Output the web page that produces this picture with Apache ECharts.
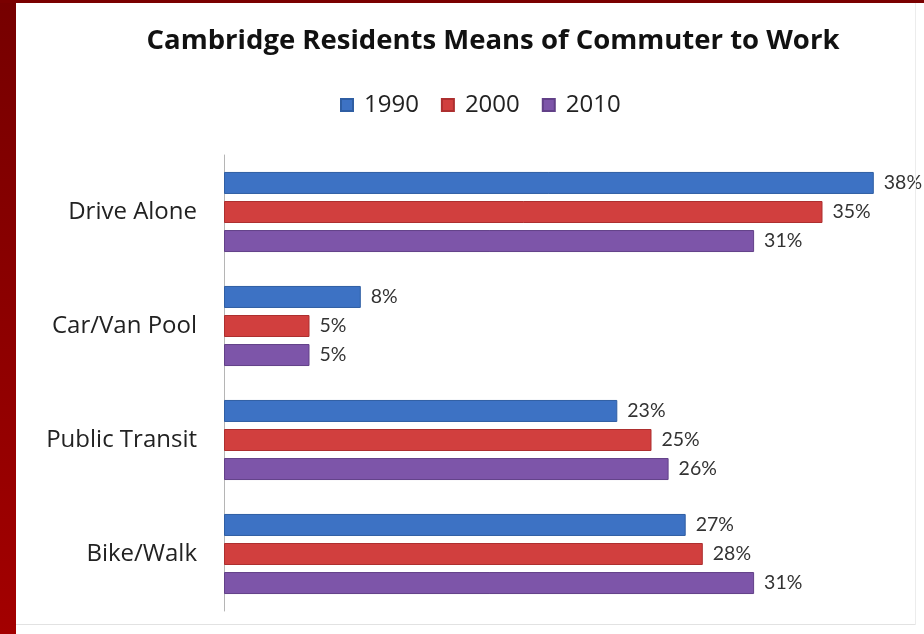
<!DOCTYPE html>
<html>
<head>
<meta charset="utf-8">
<title>Cambridge Residents Means of Commuter to Work</title>
<script src="https://cdn.jsdelivr.net/npm/echarts@6/dist/echarts.min.js"></script>
<style>
  html, body { margin: 0; padding: 0; background: #ffffff; }
  #wrap { position: relative; width: 924px; height: 634px; overflow: hidden; }
  #chart { position: absolute; left: 0; top: 0; width: 924px; height: 634px; }
  #edgeLeft { position: absolute; left: 0; top: 0; width: 16px; height: 634px;
    background: linear-gradient(#760000, #a30000); }
  #edgeTop { position: absolute; left: 0; top: 0; width: 924px; height: 3px; background: #7a0000; }
  #panelBottom { position: absolute; left: 16px; top: 624px; width: 900px; height: 1px; background: #e2e2e2; }
  #panelRight { position: absolute; left: 915px; top: 3px; width: 1px; height: 622px; background: #ececec; }
</style>
</head>
<body>
<div id="wrap">
  <div id="chart"></div>
  <div id="panelBottom"></div>
  <div id="panelRight"></div>
  <div id="edgeLeft"></div>
  <div id="edgeTop"></div>
</div>
<script>
// Commute mode shares, percent of residents
const categories = ['Drive Alone', 'Car/Van Pool', 'Public Transit', 'Bike/Walk'];
const years = ['1990', '2000', '2010'];
const share1990 = [38, 8, 23, 27];
const share2000 = [35, 5, 25, 28];
const share2010 = [31, 5, 26, 31];

const seriesValues = [share1990, share2000, share2010];
const fills = ['#3d72c4', '#d13f3e', '#7d55a9'];
const edges = ['#2f5ea3', '#ad2f2f', '#624088'];

const headFont = '"Open Sans", Lato, sans-serif';
const bodyFont = 'Lato, "Open Sans", sans-serif';

const chart = echarts.init(document.getElementById('chart'));
chart.setOption({
  animation: false,
  backgroundColor: '#ffffff',
  title: {
    text: 'Cambridge Residents Means of Commuter to Work',
    left: 488,
    textAlign: 'center',
    top: 22,
    textStyle: { fontFamily: headFont, fontSize: 27.5, fontWeight: 'bold', color: '#111111' }
  },
  legend: {
    data: years,
    top: 88,
    left: 335,
    itemWidth: 12,
    itemHeight: 12,
    itemGap: 22,
    icon: 'rect',
    textStyle: { fontFamily: headFont, fontSize: 24, color: '#222222', padding: [0, 0, 0, 6] }
  },
  grid: { left: 224, top: 155, right: 16, height: 456, containLabel: false },
  xAxis: {
    type: 'value',
    min: 0,
    max: 40,
    show: false
  },
  yAxis: {
    type: 'category',
    data: categories,
    inverse: true,
    axisLine: { show: true, lineStyle: { color: '#b5b5b5', width: 1 } },
    axisTick: { show: false },
    axisLabel: { fontFamily: headFont, fontSize: 24, color: '#222222', margin: 27 },
    splitLine: { show: false }
  },
  series: years.map((y, i) => ({
    name: y,
    type: 'bar',
    data: seriesValues[i],
    barWidth: 22,
    barGap: '32%',
    itemStyle: { color: fills[i], borderColor: edges[i], borderWidth: 1 },
    label: {
      show: true,
      position: 'right',
      distance: 10,
      formatter: (p) => p.value + '%',
      fontFamily: bodyFont,
      fontSize: 19.5,
      color: '#333333'
    }
  }))
});
</script>
</body>
</html>
